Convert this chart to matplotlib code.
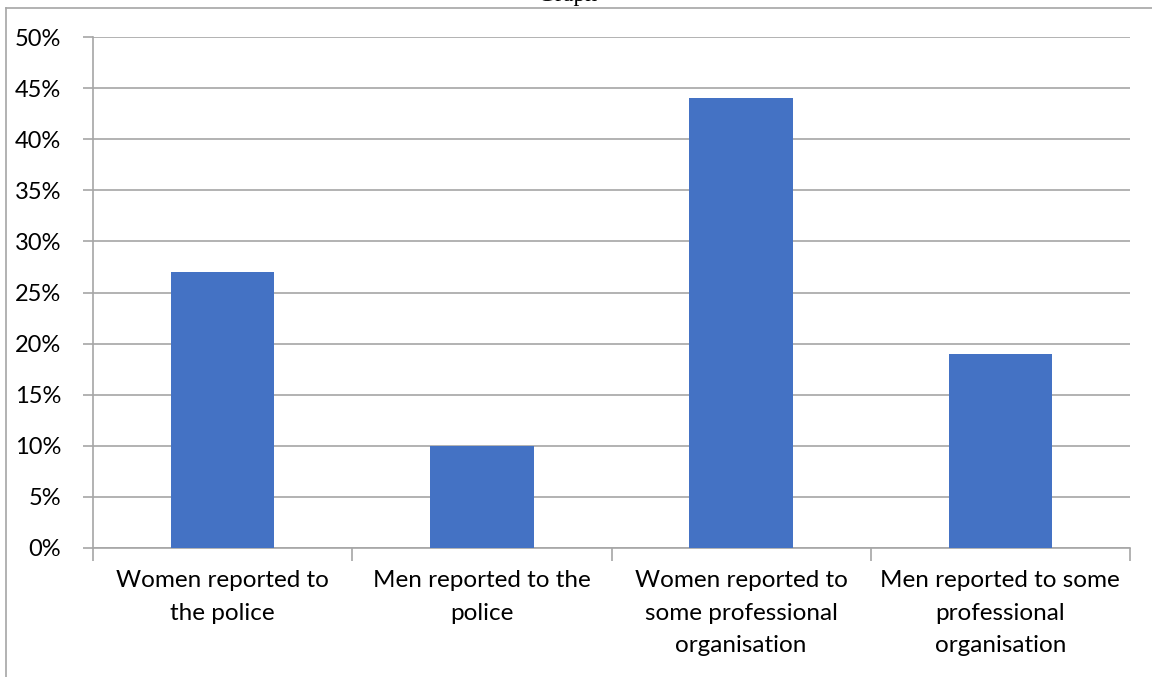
import matplotlib.pyplot as plt
from matplotlib.lines import Line2D
from matplotlib.ticker import PercentFormatter, FixedLocator

categories = [
    "Women reported to\nthe police",
    "Men reported to the\npolice",
    "Women reported to\nsome professional\norganisation",
    "Men reported to some\nprofessional\norganisation",
]
values = [27, 10, 44, 19]
y_ticks = [0, 5, 10, 15, 20, 25, 30, 35, 40, 45, 50]

W, H = 1152, 677
fig = plt.figure(figsize=(W / 100, H / 100), dpi=100)
fig.patch.set_facecolor("white")

# axes box in pixels: left 93, right 1130, top 37, bottom 548
ax = fig.add_axes([93 / W, 1 - 548 / H, (1130 - 93) / W, (548 - 37) / H])

x = list(range(len(categories)))
ax.bar(x, values, width=0.4, color="#4472C4", zorder=3)

ax.set_xlim(-0.5, len(categories) - 0.5)
ax.set_ylim(0, 50)
ax.set_yticks(y_ticks)
ax.yaxis.set_major_formatter(PercentFormatter(decimals=0))
ax.grid(axis="y", color="#A6A6A6", linewidth=1.2, zorder=0)

for s in ["top", "right"]:
    ax.spines[s].set_visible(False)
for s in ["left", "bottom"]:
    ax.spines[s].set_color("#A6A6A6")
    ax.spines[s].set_linewidth(1.2)

# category boundary ticks on x axis, labels at centers
ax.xaxis.set_major_locator(FixedLocator([i - 0.5 for i in range(len(categories) + 1)]))
ax.xaxis.set_major_formatter(plt.NullFormatter())
ax.tick_params(axis="x", which="major", length=9, color="#A6A6A6", width=1.2)
ax.xaxis.set_minor_locator(FixedLocator(x))
ax.set_xticklabels(categories, minor=True)
ax.tick_params(axis="x", which="minor", length=0, pad=16, labelsize=17.5)
for lbl in ax.get_xticklabels(minor=True):
    lbl.set_fontfamily("Lato")
    lbl.set_linespacing(1.68)

ax.tick_params(axis="y", length=7, color="#A6A6A6", width=1.2, pad=16, labelsize=17)
for lbl in ax.get_yticklabels():
    lbl.set_fontfamily("Lato")

# outer frame of the chart area (top and left edges visible)
fig.add_artist(Line2D([6 / W, 1], [1 - 8 / H, 1 - 8 / H], transform=fig.transFigure, color="#A6A6A6", lw=1.2))
fig.add_artist(Line2D([6 / W, 6 / W], [0, 1 - 8 / H], transform=fig.transFigure, color="#A6A6A6", lw=1.2))

# title mostly cut off at the top
fig.text(568 / W, 1 - 0.5 / H, "Graph", ha="center", va="baseline",
         fontsize=17, family="Liberation Serif")

fig.savefig("out.png", dpi=100, facecolor="white")
